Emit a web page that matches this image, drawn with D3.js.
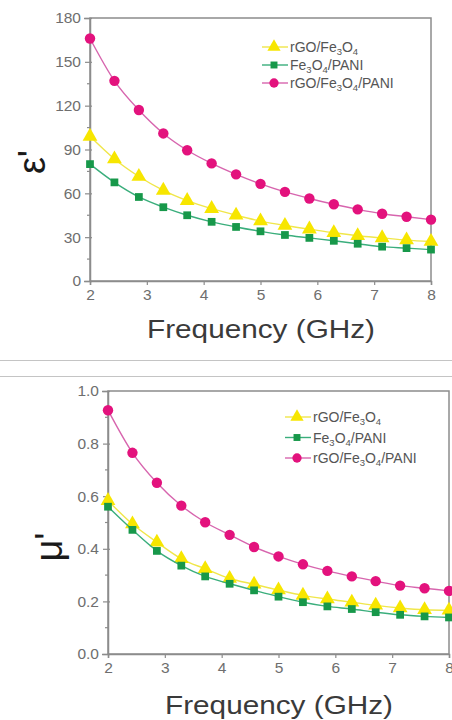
<!DOCTYPE html>
<html>
<head>
<meta charset="utf-8">
<script src="https://cdn.jsdelivr.net/npm/d3@7"></script>
<style>
  body { margin: 0; background: #fff; }
  svg { display: block; font-family: "Liberation Sans", Arial, sans-serif; }
</style>
</head>
<body>
<div class="fig"></div>
<script>
// frequency points (GHz)
const freq = [2, 2.43, 2.86, 3.29, 3.71, 4.14, 4.57, 5, 5.43, 5.86, 6.29, 6.71, 7.14, 7.57, 8];

// permittivity (real part)
const epsRgoFe = [99, 83.5, 71.5, 62, 55, 49.5, 45, 41, 38, 35.5, 33, 31, 29.5, 28, 27];
const epsFePani = [80, 67.5, 57.5, 50.5, 45, 40.5, 37, 34, 31.5, 29.5, 27.5, 25.5, 23.5, 22.5, 21.5];
const epsRgoFePani = [166, 137, 117, 101, 89.5, 80.5, 73, 66.5, 61, 56.5, 52.5, 49, 46, 44, 42];

// permeability (real part)
const muRgoFe = [0.583, 0.494, 0.425, 0.362, 0.324, 0.287, 0.265, 0.243, 0.223, 0.209, 0.197, 0.185, 0.175, 0.168, 0.166];
const muFePani = [0.56, 0.472, 0.392, 0.336, 0.295, 0.267, 0.242, 0.218, 0.197, 0.181, 0.171, 0.159, 0.149, 0.143, 0.139];
const muRgoFePani = [0.927, 0.765, 0.651, 0.564, 0.501, 0.453, 0.407, 0.371, 0.341, 0.316, 0.295, 0.277, 0.26, 0.25, 0.24];

const freqTicks = [2, 3, 4, 5, 6, 7, 8];
const epsTicks = [0, 30, 60, 90, 120, 150, 180];
const muTicks = [0, 0.2, 0.4, 0.6, 0.8, 1.0];

// legend labels as [text, subscript] pieces
const legendLabels = [
    [["rGO/Fe", 0], ["3", 1], ["O", 0], ["4", 1]],
    [["Fe", 0], ["3", 1], ["O", 0], ["4", 1], ["/PANI", 0]],
    [["rGO/Fe", 0], ["3", 1], ["O", 0], ["4", 1], ["/PANI", 0]]
];

const styles = [
    { line: '#f0e64a', fill: '#f7e600', shape: d3.symbolTriangle, size: 95 },
    { line: '#3aae7c', fill: '#17984a', shape: d3.symbolSquare, size: 60 },
    { line: '#d765ae', fill: '#e3127d', shape: d3.symbolCircle, size: 85 }
];

const W = 452, H = 720;
const svg = d3.select('.fig').append('svg')
    .attr('width', W)
    .attr('height', H);

// separator lines between the two panels
svg.append('line').attr('x1', 0).attr('x2', W).attr('y1', 360.5).attr('y2', 360.5)
    .attr('stroke', '#c4c4c4').attr('stroke-width', 1);
svg.append('line').attr('x1', 0).attr('x2', W).attr('y1', 376.5).attr('y2', 376.5)
    .attr('stroke', '#c4c4c4').attr('stroke-width', 1);

function panel(cfg) {
    const x = d3.scaleLinear().domain([2, 8]).range([cfg.left, cfg.right]);
    const y = d3.scaleLinear().domain([cfg.ticks[0], cfg.ticks[cfg.ticks.length - 1]]).range([cfg.bottom, cfg.top]);
    const g = svg.append('g');
    const axisColor = '#8c8c8c';

    // frame
    g.append('rect')
        .attr('x', cfg.left).attr('y', cfg.top)
        .attr('width', cfg.right - cfg.left).attr('height', cfg.bottom - cfg.top)
        .attr('fill', 'none').attr('stroke', axisColor).attr('stroke-width', 1.5);

    // minor y ticks
    const step = cfg.ticks[1] - cfg.ticks[0];
    const minor = cfg.ticks.slice(0, -1).map(t => t + step / 2);
    g.selectAll('.minor').data(minor).enter().append('line')
        .attr('x1', cfg.left - 3).attr('x2', cfg.left)
        .attr('y1', d => y(d)).attr('y2', d => y(d))
        .attr('stroke', axisColor).attr('stroke-width', 1.2);

    const yAxis = g.append('g')
        .attr('transform', `translate(${cfg.left},0)`)
        .call(d3.axisLeft(y).tickValues(cfg.ticks).tickSize(6).tickPadding(3).tickFormat(cfg.fmt));
    const xAxis = g.append('g')
        .attr('transform', `translate(0,${cfg.bottom})`)
        .call(d3.axisBottom(x).tickValues(freqTicks).tickSize(4).tickPadding(4).tickFormat(d3.format('d')));
    [xAxis, yAxis].forEach(a => {
        a.select('.domain').attr('stroke', axisColor).attr('stroke-width', 1.5);
        a.selectAll('.tick line').attr('stroke', axisColor).attr('stroke-width', 1.2);
        a.selectAll('.tick text').attr('fill', '#6e6e6e').style('font-size', '15.5px')
            .style('font-family', '"Liberation Sans", Arial, sans-serif');
    });
    yAxis.selectAll('.tick line').attr('x2', 2).attr('x1', -5);

    // curves and markers
    const line = d3.line().x((d, i) => x(freq[i])).y(d => y(d)).curve(d3.curveMonotoneX);
    cfg.series.forEach((s, k) => {
        const st = styles[k];
        g.append('path').datum(s).attr('d', line)
            .attr('fill', 'none').attr('stroke', st.line).attr('stroke-width', 1.4);
        g.selectAll('.m' + k).data(s).enter().append('path')
            .attr('transform', (d, i) => `translate(${x(freq[i])},${y(d)})`)
            .attr('d', d3.symbol().type(st.shape).size(st.size))
            .attr('fill', st.fill);
    });

    // legend
    const lg = g.append('g');
    legendLabels.forEach((lab, k) => {
        const st = styles[k];
        const ly = cfg.legY + k * cfg.legGap;
        lg.append('line').attr('x1', cfg.legX).attr('x2', cfg.legX + 26)
            .attr('y1', ly).attr('y2', ly).attr('stroke', st.line).attr('stroke-width', 1.4);
        lg.append('path').attr('transform', `translate(${cfg.legX + 12},${ly})`)
            .attr('d', d3.symbol().type(st.shape).size(st.size * 0.8))
            .attr('fill', st.fill);
        const t = lg.append('text').attr('x', cfg.legX + 28).attr('y', ly + 5)
            .attr('fill', '#555').style('font-size', '14px');
        lab.forEach(p => {
            const ts = t.append('tspan').text(p[0]);
            if (p[1]) ts.style('font-size', '9.5px').attr('dy', 3);
            else ts.attr('dy', t.selectAll('tspan').size() > 1 ? -3 : 0);
        });
    });

    // axis titles
    g.append('text')
        .attr('x', cfg.titleX).attr('y', cfg.titleY)
        .attr('text-anchor', 'middle')
        .attr('textLength', 228).attr('lengthAdjust', 'spacingAndGlyphs')
        .attr('fill', '#3a3a3a').style('font-size', '25px')
        .text('Frequency (GHz)');
    g.append('text')
        .attr('transform', `translate(${cfg.ylabX},${cfg.ylabY}) rotate(-90)`)
        .attr('text-anchor', 'middle')
        .attr('fill', '#1a1a1a').style('font-size', '38px')
        .text(cfg.ylab);
}

panel({
    left: 90, right: 431, top: 18, bottom: 281,
    ticks: epsTicks, fmt: d3.format('d'),
    series: [epsRgoFe, epsFePani, epsRgoFePani],
    legX: 262, legY: 47, legGap: 18,
    titleX: 261, titleY: 338,
    ylab: "ε'", ylabX: 45, ylabY: 162
});

panel({
    left: 108, right: 449, top: 391, bottom: 654,
    ticks: muTicks, fmt: d3.format('.1f'),
    series: [muRgoFe, muFePani, muRgoFePani],
    legX: 285, legY: 417, legGap: 20.5,
    titleX: 279, titleY: 714,
    ylab: "μ'", ylabX: 62, ylabY: 547
});
</script>
</body>
</html>
